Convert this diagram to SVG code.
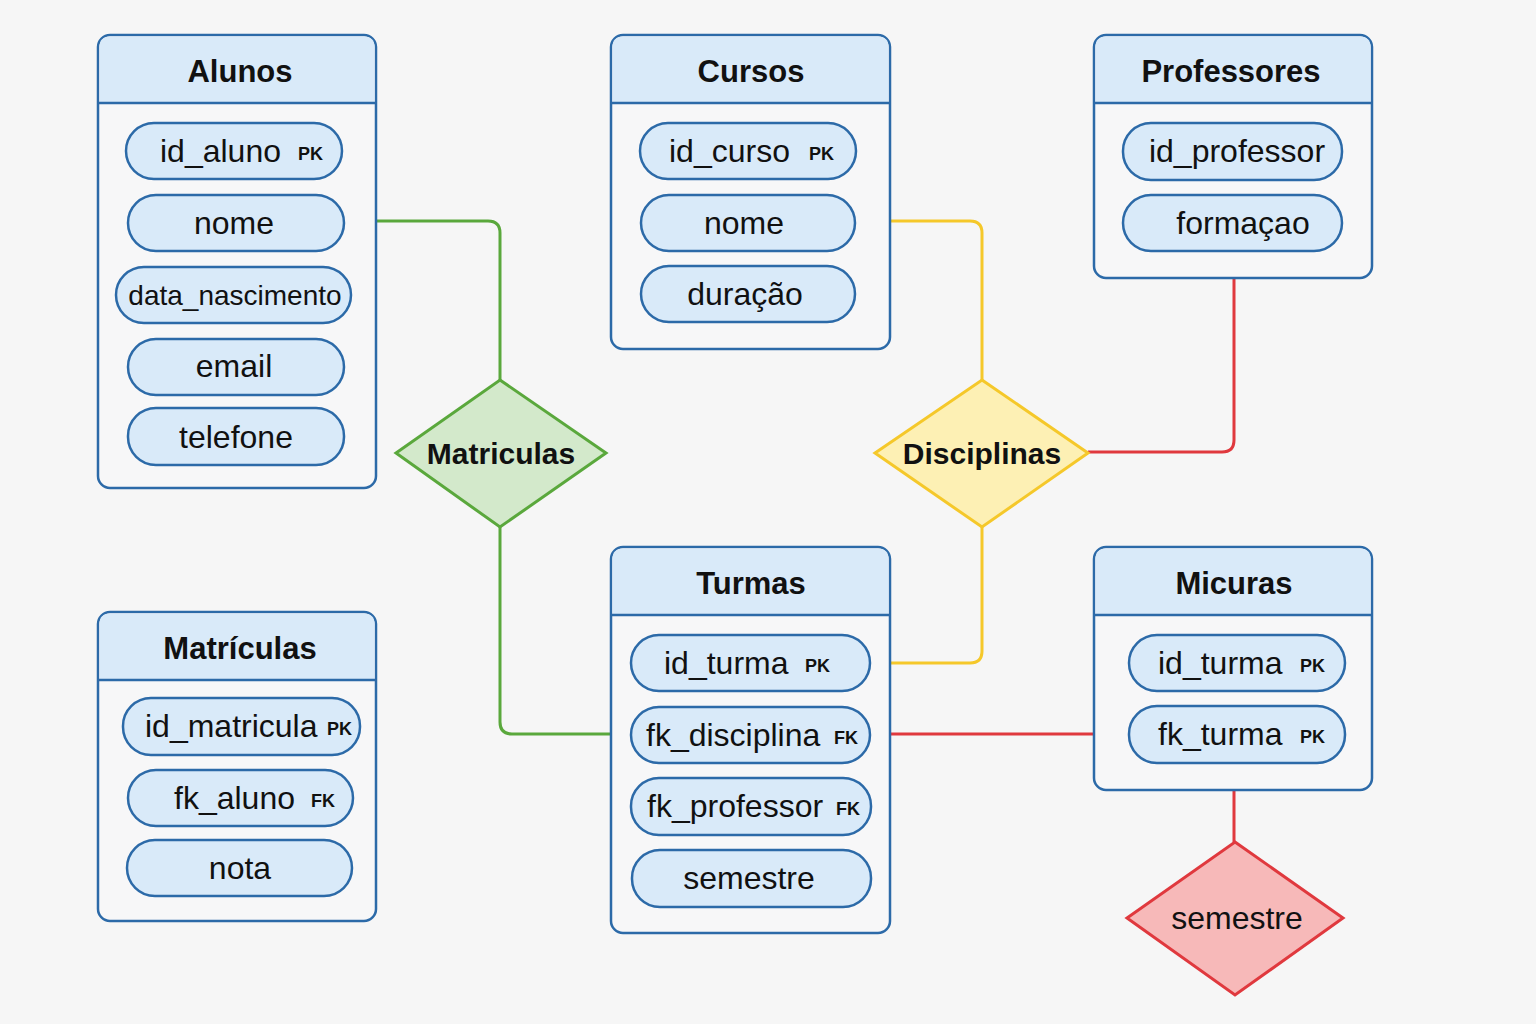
<svg xmlns="http://www.w3.org/2000/svg" width="1536" height="1024" viewBox="0 0 1536 1024">
<style>
.box{fill:#f7f7f8;stroke:#2c6aa8;stroke-width:2.5}
.hdr{fill:#d9eaf9;stroke:none}
.sep{stroke:#2c6aa8;stroke-width:2.5}
.pill{fill:#d9eaf9;stroke:#2c6aa8;stroke-width:2.5}
.title{font-family:"Liberation Sans",Arial,sans-serif;font-weight:bold;font-size:31px;fill:#111;text-anchor:middle}
.attr{font-family:"Liberation Sans",Arial,sans-serif;font-size:32px;fill:#111}
.mid{text-anchor:middle}
.key{font-family:"Liberation Sans",Arial,sans-serif;font-weight:bold;font-size:18px;fill:#111}
.rel{font-family:"Liberation Sans",Arial,sans-serif;font-weight:bold;font-size:30px;fill:#111;text-anchor:middle}
.con{fill:none;stroke-width:3}
</style>
<rect width="1536" height="1024" fill="#f6f6f6"/>

<g id="connectors">
  <path class="con" stroke="#5aa83c" d="M376,221 H488 Q500,221 500,233 V380"/>
  <path class="con" stroke="#5aa83c" d="M500,527 V722 Q500,734 512,734 H611"/>
  <path class="con" stroke="#f5c82a" d="M890,221 H970 Q982,221 982,233 V380"/>
  <path class="con" stroke="#f5c82a" d="M982,527 V651 Q982,663 970,663 H890"/>
  <path class="con" stroke="#e0393e" d="M1234,278 V440 Q1234,452 1222,452 H1088"/>
  <path class="con" stroke="#e0393e" d="M890,734 H1094"/>
  <path class="con" stroke="#e0393e" d="M1234,790 V842"/>
</g>

<g id="alunos">
  <rect class="box" x="98" y="35" width="278" height="453" rx="12"/>
  <path class="hdr" d="M110,36.5 H364 Q374.5,36.5 374.5,47 V103 H99.5 V47 Q99.5,36.5 110,36.5 Z"/>
  <line class="sep" x1="98" y1="103" x2="376" y2="103"/>
  <text class="title" x="240" y="82">Alunos</text>
  <rect class="pill" x="126" y="123" width="216" height="56" rx="28"/>
  <text class="attr" x="160" y="162">id_aluno</text><text class="key" x="298" y="160">PK</text>
  <rect class="pill" x="128" y="195" width="216" height="56" rx="28"/>
  <text class="attr mid" x="234" y="234">nome</text>
  <rect class="pill" x="116" y="267" width="235" height="56" rx="28"/>
  <text class="attr mid" x="235" y="305" style="font-size:28px">data_nascimento</text>
  <rect class="pill" x="128" y="339" width="216" height="56" rx="28"/>
  <text class="attr mid" x="234" y="377">email</text>
  <rect class="pill" x="128" y="408" width="216" height="57" rx="28"/>
  <text class="attr mid" x="236" y="448">telefone</text>
</g>

<g id="cursos">
  <rect class="box" x="611" y="35" width="279" height="314" rx="12"/>
  <path class="hdr" d="M623,36.5 H878 Q888.5,36.5 888.5,47 V103 H612.5 V47 Q612.5,36.5 623,36.5 Z"/>
  <line class="sep" x1="611" y1="103" x2="890" y2="103"/>
  <text class="title" x="751" y="82">Cursos</text>
  <rect class="pill" x="640" y="123" width="216" height="56" rx="28"/>
  <text class="attr" x="669" y="162">id_curso</text><text class="key" x="809" y="160">PK</text>
  <rect class="pill" x="641" y="195" width="214" height="56" rx="28"/>
  <text class="attr mid" x="744" y="234">nome</text>
  <rect class="pill" x="641" y="266" width="214" height="56" rx="28"/>
  <text class="attr mid" x="745" y="305">duração</text>
</g>

<g id="professores">
  <rect class="box" x="1094" y="35" width="278" height="243" rx="12"/>
  <path class="hdr" d="M1106,36.5 H1360 Q1370.5,36.5 1370.5,47 V103 H1095.5 V47 Q1095.5,36.5 1106,36.5 Z"/>
  <line class="sep" x1="1094" y1="103" x2="1372" y2="103"/>
  <text class="title" x="1231" y="82">Professores</text>
  <rect class="pill" x="1123" y="123" width="219" height="57" rx="28"/>
  <text class="attr mid" x="1237" y="162">id_professor</text>
  <rect class="pill" x="1123" y="195" width="219" height="56" rx="28"/>
  <text class="attr mid" x="1243" y="234">formaçao</text>
</g>

<g id="matriculas-rel">
  <polygon points="500,380 606,453 500,527 396,453" fill="#d3e9cb" stroke="#5aa83c" stroke-width="3"/>
  <text class="rel" x="501" y="464">Matriculas</text>
</g>

<g id="disciplinas-rel">
  <polygon points="982,380 1088,453 982,527 875,453" fill="#fdf0b4" stroke="#f5c82a" stroke-width="3"/>
  <text class="rel" x="982" y="464">Disciplinas</text>
</g>

<g id="turmas">
  <rect class="box" x="611" y="547" width="279" height="386" rx="12"/>
  <path class="hdr" d="M623,548.5 H878 Q888.5,548.5 888.5,559 V615 H612.5 V559 Q612.5,548.5 623,548.5 Z"/>
  <line class="sep" x1="611" y1="615" x2="890" y2="615"/>
  <text class="title" x="751" y="594">Turmas</text>
  <rect class="pill" x="631" y="635" width="239" height="56" rx="28"/>
  <text class="attr" x="664" y="674">id_turma</text><text class="key" x="805" y="672">PK</text>
  <rect class="pill" x="631" y="707" width="239" height="56" rx="28"/>
  <text class="attr" x="646" y="746">fk_disciplina</text><text class="key" x="834" y="744">FK</text>
  <rect class="pill" x="631" y="778" width="240" height="57" rx="28"/>
  <text class="attr" x="647" y="817">fk_professor</text><text class="key" x="836" y="815">FK</text>
  <rect class="pill" x="632" y="850" width="239" height="57" rx="28"/>
  <text class="attr mid" x="749" y="889">semestre</text>
</g>

<g id="micuras">
  <rect class="box" x="1094" y="547" width="278" height="243" rx="12"/>
  <path class="hdr" d="M1106,548.5 H1360 Q1370.5,548.5 1370.5,559 V615 H1095.5 V559 Q1095.5,548.5 1106,548.5 Z"/>
  <line class="sep" x1="1094" y1="615" x2="1372" y2="615"/>
  <text class="title" x="1234" y="594">Micuras</text>
  <rect class="pill" x="1129" y="635" width="216" height="56" rx="28"/>
  <text class="attr" x="1158" y="674">id_turma</text><text class="key" x="1300" y="672">PK</text>
  <rect class="pill" x="1129" y="706" width="216" height="57" rx="28"/>
  <text class="attr" x="1158" y="745">fk_turma</text><text class="key" x="1300" y="743">PK</text>
</g>

<g id="matriculas">
  <rect class="box" x="98" y="612" width="278" height="309" rx="12"/>
  <path class="hdr" d="M110,613.5 H364 Q374.5,613.5 374.5,624 V680 H99.5 V624 Q99.5,613.5 110,613.5 Z"/>
  <line class="sep" x1="98" y1="680" x2="376" y2="680"/>
  <text class="title" x="240" y="659">Matrículas</text>
  <rect class="pill" x="123" y="698" width="237" height="57" rx="28"/>
  <text class="attr" x="145" y="737">id_matricula</text><text class="key" x="327" y="735">PK</text>
  <rect class="pill" x="128" y="770" width="225" height="56" rx="28"/>
  <text class="attr" x="174" y="809">fk_aluno</text><text class="key" x="311" y="807">FK</text>
  <rect class="pill" x="127" y="840" width="225" height="56" rx="28"/>
  <text class="attr mid" x="240" y="879">nota</text>
</g>

<g id="semestre-rel">
  <polygon points="1235,842 1343,918 1235,995 1127,918" fill="#f7b9b9" stroke="#e0393e" stroke-width="3"/>
  <text class="attr mid" x="1237" y="929">semestre</text>
</g>
</svg>
